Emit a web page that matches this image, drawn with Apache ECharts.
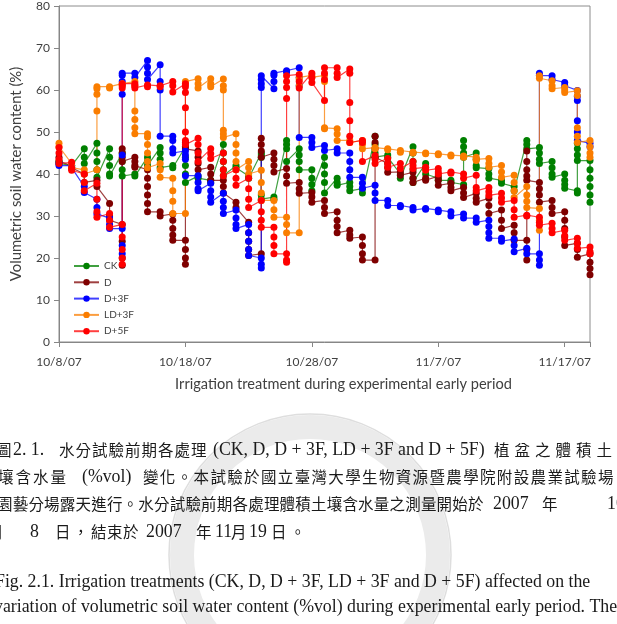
<!DOCTYPE html>
<html>
<head>
<meta charset="utf-8">
<script src="https://cdn.jsdelivr.net/npm/echarts@6/dist/echarts.min.js"></script>
<style>
html, body { margin: 0; padding: 0; background: #fff; }
#chart { width: 617px; height: 624px; }
</style>
</head>
<body>
<div id="chart"></div>
<script>
// x ticks, counted in days after 10/8/07
const tickDays = [0, 10, 20, 30, 40]
const tickLabels = ['10/8/07', '10/18/07', '10/28/07', '11/7/07', '11/17/07']
const seriesNames = ['CK', 'D', 'D+3F', 'LD+3F', 'D+5F']
const seriesColors = ['#008000', '#7f0000', '#0000ff', '#fa7d00', '#ff0000']

// readings of each day (index = day after 10/8/07), %vol
const ckValues = [
  [43, 42.5], [42, 41.8], [46, 44, 42.5], [47.3, 45, 43, 41, 39.2], [46, 44, 42, 40, 39.5],
  [45, 43, 41, 39.5], [40, 39.5], [44, 43, 42], [46.3, 45, 43.5, 41.5], [42, 41.5],
  [46.5, 44, 42, 40, 38], [39.5, 39], [38.5, 38], [47, 45, 43, 41, 39.6], [42, 41.5],
  [39.5, 39], [45, 44.5, 44, 35, 34], [34.5, 34], [48, 47, 46, 43], [46, 44.5, 43, 41],
  [41, 39, 37.5, 36], [44, 42, 40, 38, 35.5], [39, 38, 37.3], [38, 37, 36], [36.5, 35.5],
  [49, 47, 45, 44], [44.5, 44], [40, 39], [46.5, 45, 43, 41, 39, 38], [42.5, 41.5, 40],
  [39, 38.5], [38.5, 38], [37.5, 48, 46.5, 45, 44], [45, 43.5, 42, 41.5], [41.3, 40, 39],
  [38.5, 37.8], [37, 36], [48, 47, 46], [46.3, 45, 43.5, 42.5], [43, 41.5, 40, 39.2],
  [40, 38.5, 37.5, 36.6], [36, 35.5, 47.3, 46, 44.5, 43.2], [43.2, 41, 39, 37, 35, 33.3]
]
const dValues = [
  [44, 43], [42, 41.5], [40, 38], [38.5, 37], [33, 30, 29],
  [28, 24, 20, 18.3, 46, 45, 44, 43], [44, 43, 42, 41.6], [41, 39, 37, 35, 33, 31], [31, 30], [30.5, 29, 27, 25.5, 24.2],
  [24.2, 22, 20, 18.5, 47.5, 46.5, 46], [45.5, 44, 42.5, 41], [41.6, 40, 38.5], [38.5, 37, 35.5], [33.3, 32],
  [28.5, 26, 24, 22, 20.6], [21, 48.5, 47, 45.5, 44], [45, 43.5, 42, 40.5], [41.3, 39.5, 37.8], [38, 36.5, 35.4],
  [35.6, 34.5, 33.3], [33.7, 32, 30.6], [31, 29, 27.5, 26], [26.6, 25.5, 24.7], [25, 23, 21, 19.5],
  [19.5, 49, 47.5, 46, 44], [42.5, 41.5, 40.4], [40.5, 39.7], [40.4, 39, 38], [39, 38.5],
  [39.5, 38.5, 37.3], [37.8, 36.8, 36], [36.8, 35.5, 34.4], [35.4, 34.2, 33.3], [34.2, 32.5, 30.6],
  [31.4, 29, 27], [27.8, 26, 24.2], [24.2, 22, 19.5, 45.5, 43, 41, 39.5, 38.5], [38, 36.5, 35, 33.3], [33.7, 32, 30.6],
  [31, 29, 27, 25, 23], [23.5, 22, 20.2], [21, 19, 17.5, 16]
]
const d3fValues = [
  [42.5, 42], [42, 41.5], [37, 35.6], [34, 32, 30.5], [29.5, 28, 27],
  [27, 23, 21, 44.5, 59, 62, 63.5, 64], [64, 63], [67, 65.5, 64, 62.5], [66, 62, 60, 49], [49, 48, 46, 45],
  [45.5, 44.5, 43.5, 39.6], [39.6, 38, 36.5, 36], [37.8, 36, 34.5, 33.3], [35.4, 33.5, 32, 30.6], [31.4, 29.5, 28, 27],
  [28, 26, 24, 22, 20.6], [20, 18.5, 17.6, 60.6, 61.5, 62.5, 63.4], [60.3, 62, 63.5, 64], [64.6, 64.3], [65.3, 63, 61, 48.7],
  [48.7, 47.5, 46.3], [46.8, 45.6], [46, 45], [45, 43, 41, 39.2], [39.2, 37.8, 36.6],
  [37.3, 35.5, 33.7], [33.7, 32.5], [32.5, 32.2], [32, 31.4], [31.8, 31.6],
  [31.4, 31], [31, 30], [30.5, 29.5], [29.5, 28.5], [29, 27.5, 26, 24.7],
  [24.7, 24], [24.5, 23, 21.5], [22.3, 21], [21, 19.5, 18.3, 64, 63.5], [63.4, 62.5],
  [61.8, 61], [59.9, 58.5, 57.5, 52.7, 50, 48], [47.3, 46.5]
]
const ld3fValues = [
  [47.3, 46.5], [42.5, 41.5], [41, 40], [41, 55, 59, 60.3, 60.8], [60.8, 60.5],
  [61.5, 61.2], [62, 61, 55, 53, 51, 49.6], [49.6, 48.8, 47, 45, 43, 41.5], [42.5, 41, 39.2], [39, 36, 33.5, 30.6],
  [30.6, 61.5, 62], [62.7, 61.5, 60.5], [62.7, 61.5, 60.8], [62.6, 61, 60, 50.4, 49.5, 48.7], [49.6, 47, 45, 43, 41],
  [43, 41.5, 40], [40.9, 38, 35.5, 33.7], [33.7, 31.5, 29.7], [29.7, 28, 26], [26, 61, 62.5, 63],
  [63.5, 63], [63.5, 62, 51, 50.8], [50.8, 49.5, 48], [48, 47.5], [48, 47, 46],
  [46.3, 46], [46, 45.8], [45.6, 45.2], [45.2, 45], [45, 44.8],
  [44.8, 44.6], [44.5, 44.3], [44.3, 44], [44, 43.5, 43.2], [43.7, 42.5, 41.6],
  [42, 40.5, 39.2], [39.7, 38, 36, 34.4], [37, 35, 33.5, 32], [31.8, 29, 26.6, 63.4, 62.8], [62.2, 61, 60.3],
  [60.6, 60, 59.4], [59.8, 58.7, 51, 49, 47.5], [48, 46.5, 45, 44]
]
const d5fValues = [
  [46.3, 45, 43.5, 42.5], [42.8, 41.5, 40.9], [40, 38, 36], [37.8, 34, 31, 29.7], [30.6, 29, 27.3],
  [28, 25, 22, 20, 18.5, 60.5, 61, 61.5], [61.5, 61, 60.5], [61.2, 60.8], [61, 60.8], [62, 61, 59.5],
  [61.5, 60.8, 59.4, 55.8, 50, 48, 47], [48.5, 47, 45, 43], [46, 44.8, 43.7], [45, 43, 41, 39.6], [41, 39, 37.3],
  [39, 36.5, 34, 32], [33.7, 31, 29, 27.3], [27.3, 25, 23, 21], [21, 19.5, 19, 58, 60.6, 62, 63.4], [63.7, 62, 60.5],
  [64, 63, 61.8], [57.5, 62.5, 64, 65.3], [65.3, 64, 63], [65, 64, 57, 52.7, 49, 47.5], [48, 47.5, 43],
  [44.4, 43.5, 42.5], [43.7, 42.5, 41.6], [42.5, 41.3], [43, 42, 41.3], [41.6, 40.9],
  [41.3, 40.5, 40], [40.5, 40.2], [40, 39], [39.7, 36.8, 36], [36.8, 35.8, 34.9],
  [35.4, 34.3, 33.3], [33.7, 31.5, 29.7], [30.2, 30], [29.7, 28.5, 27.8], [28.3, 27, 26],
  [26.6, 25.3, 24.2], [24.7, 23.5, 22.3], [22.6, 21.5, 21]
]
const allValues = [ckValues, dValues, d3fValues, ld3fValues, d5fValues]

// 把每天的讀數攤平成 [day, value]
function toPoints (days) {
  const pts = []
  days.forEach((vals, day) => {
    vals.forEach(v => pts.push([day, v]))
  })
  return pts
}

const cjkFont = '"Noto Sans CJK TC", sans-serif'
const latinFont = '"Liberation Serif", "Times New Roman", serif'
const captionLines = [
  { y: 450, runs: [['圖', -4], ['2. 1.', 13], ['水分試驗前期各處理', 59, 16.5], ['(CK, D, D + 3F, LD + 3F and D + 5F)', 213], ['植盆之體積土', 494, 20.5]] },
  { y: 477, runs: [['壤含水量', -2, 17.5], ['(%vol)', 82], ['變化。本試驗於國立臺灣大學生物資源暨農學院附設農業試驗場', 143, 16.85]] },
  { y: 504, runs: [['園藝分場露天進行。水分試驗前期各處理體積土壤含水量之測量開始於', -3, 15.7], ['2007', 493], ['年', 542], ['10', 607]] },
  { y: 532, runs: [['月', -12], ['8', 30], ['日', 55], ['，', 73], ['結束於', 91, 16], ['2007', 146], ['年', 196], ['11', 215], ['月', 231], ['19', 249], ['日', 271], ['。', 290]] },
  { y: 582, runs: [['Fig. 2.1. Irrigation treatments (CK, D, D + 3F, LD + 3F and D + 5F) affected on the', -5]] },
  { y: 607, runs: [['variation of volumetric soil water content (%vol) during experimental early period. The', -6]] }
]

function captionElements () {
  const els = []
  // 淡灰色校徽浮水印（只畫外圈）
  els.push({
    type: 'circle',
    silent: true,
    z: -1,
    shape: { cx: 310, cy: 555, r: 128 },
    style: { fill: 'none', stroke: '#ebebeb', lineWidth: 24 }
  })
  els.push({
    type: 'circle',
    silent: true,
    z: -1,
    shape: { cx: 310, cy: 555, r: 141 },
    style: { fill: 'none', stroke: '#dedede', lineWidth: 1.5 }
  })
  const make = (text, x, y) => {
    const cjk = /[\u3000-\u9fff\uff00-\uffef]/.test(text)
    els.push({
      type: 'text',
      silent: true,
      style: {
        text: text,
        x: x,
        y: y,
        fill: '#1a1a1a',
        fontSize: cjk ? 15.5 : 17.8,
        fontFamily: cjk ? cjkFont : latinFont,
        verticalAlign: 'middle',
        align: 'left'
      }
    })
  }
  captionLines.forEach(line => {
    line.runs.forEach(([text, x, step]) => {
      if (step) {
        Array.from(text).forEach((ch, i) => make(ch, x + i * step, line.y))
      } else {
        make(text, x, line.y)
      }
    })
  })
  return els
}

const chart = echarts.init(document.getElementById('chart'))
chart.setOption({
  animation: false,
  backgroundColor: '#fff',
  grid: { left: 59, right: 27, top: 5, bottom: 282, show: true, borderColor: '#8c8c8c', borderWidth: 1 },
  legend: {
    orient: 'vertical',
    left: 68,
    top: 256,
    itemWidth: 25,
    itemHeight: 8,
    itemGap: 6.3,
    selectedMode: false,
    textStyle: { fontFamily: 'Lato', fontSize: 10, color: '#404040' },
    data: seriesNames
  },
  xAxis: {
    type: 'value',
    min: 0,
    max: 42,
    interval: 10,
    name: 'Irrigation treatment during experimental early period',
    nameLocation: 'middle',
    nameGap: 35,
    nameTextStyle: { fontFamily: 'Lato', fontSize: 14.6, color: '#404040', padding: [0, 0, 0, 38] },
    splitLine: { show: false },
    axisLine: { lineStyle: { color: '#868686' } },
    axisTick: { length: 5, lineStyle: { color: '#868686' } },
    axisLabel: {
      margin: 14,
      fontFamily: 'Lato',
      fontSize: 12,
      color: '#404040',
      formatter: v => {
        const i = tickDays.indexOf(v)
        return i >= 0 ? tickLabels[i] : ''
      }
    }
  },
  yAxis: {
    type: 'value',
    min: 0,
    max: 80,
    interval: 10,
    name: 'Volumetric soil water content (%)',
    nameLocation: 'middle',
    nameGap: 35,
    nameTextStyle: { fontFamily: 'Lato', fontSize: 14.8, color: '#404040' },
    splitLine: { show: false },
    axisLine: { show: true, lineStyle: { color: '#868686' } },
    axisTick: { show: true, length: 5, lineStyle: { color: '#868686' } },
    axisLabel: { margin: 9, fontFamily: 'Lato', fontSize: 12, color: '#404040' }
  },
  series: seriesNames.map((name, i) => ({
    name: name,
    type: 'line',
    data: toPoints(allValues[i]),
    color: seriesColors[i],
    symbol: 'circle',
    symbolSize: 7,
    showAllSymbol: true,
    lineStyle: { width: 1.2, opacity: 0.75 },
    itemStyle: { color: seriesColors[i] }
  })),
  graphic: captionElements()
})
</script>
</body>
</html>
